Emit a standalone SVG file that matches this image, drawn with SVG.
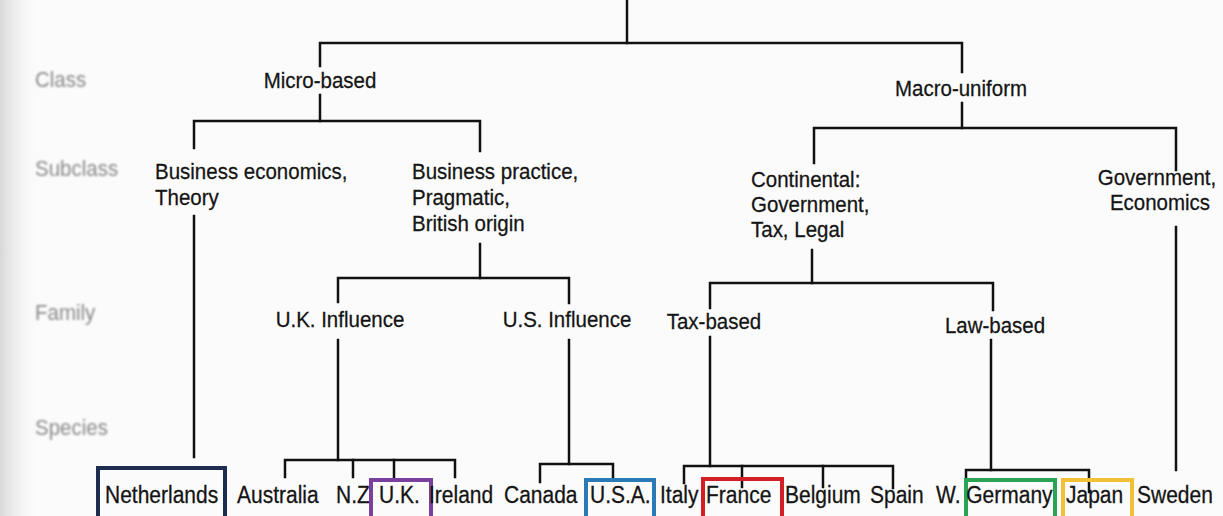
<svg xmlns="http://www.w3.org/2000/svg" width="1223" height="516" viewBox="0 0 1223 516">
<defs>
<linearGradient id="shade" x1="0" y1="0" x2="1" y2="0">
<stop offset="0" stop-color="#d8d8d8"/>
<stop offset="1" stop-color="#fbfbfb" stop-opacity="0"/>
</linearGradient>
<filter id="blur" x="-5%" y="-20%" width="110%" height="140%"><feGaussianBlur stdDeviation="0.9"/></filter>
<style>
text{font-family:"Liberation Sans",Arial,sans-serif;font-size:20.5px;fill:#141414;stroke:#141414;stroke-width:0.25;transform-box:fill-box;transform-origin:50% 50%;transform:scaleY(1.12)}
.lvl{fill:#8a8a8a;stroke:none;font-size:20.5px;filter:url(#blur)}
.cn{fill:none;stroke:#111;stroke-width:2.5;stroke-linejoin:miter;stroke-linecap:square}
.box{fill:none;stroke-width:4}
.bot{font-size:21px}
</style>
</defs>
<rect width="1223" height="516" fill="#fbfbfb"/>
<rect width="40" height="516" fill="url(#shade)"/>

<g id="levels">
<text class="lvl" x="35" y="86">Class</text>
<text class="lvl" x="35" y="175">Subclass</text>
<text class="lvl" x="35" y="319">Family</text>
<text class="lvl" x="35" y="434">Species</text>
</g>

<g id="connectors">
<path class="cn" d="M627,0 V43"/>
<path class="cn" d="M320,66 V43 H962 V72"/>
<path class="cn" d="M320,95 V121"/>
<path class="cn" d="M194,148 V121 H480 V151"/>
<path class="cn" d="M194,216 V457"/>
<path class="cn" d="M480,244 V278"/>
<path class="cn" d="M338,302 V278 H569 V303"/>
<path class="cn" d="M338,340 V460"/>
<path class="cn" d="M285,477 V460 H455 V477"/>
<path class="cn" d="M353,460 V477"/>
<path class="cn" d="M394,460 V478"/>
<path class="cn" d="M569,340 V464"/>
<path class="cn" d="M540,482 V464 H613 V480"/>
<path class="cn" d="M962,103 V128"/>
<path class="cn" d="M814,163 V128 H1176 V170"/>
<path class="cn" d="M812,250 V283"/>
<path class="cn" d="M710,308 V283 H993 V310"/>
<path class="cn" d="M710,337 V466"/>
<path class="cn" d="M684,483 V466 H893 V488"/>
<path class="cn" d="M742,466 V487"/>
<path class="cn" d="M823,466 V487"/>
<path class="cn" d="M991,340 V470"/>
<path class="cn" d="M966,480 V470 H1089 V492"/>
<path class="cn" d="M1176,227 V470"/>
</g>

<g id="n-micro"><text x="320" y="87" text-anchor="middle">Micro-based</text></g>
<g id="n-macro"><text x="961" y="95" text-anchor="middle">Macro-uniform</text></g>
<g id="n-buseco"><text x="155" y="178">Business economics,</text><text x="155" y="204">Theory</text></g>
<g id="n-buspra"><text x="412" y="178">Business practice,</text><text x="412" y="204">Pragmatic,</text><text x="412" y="230">British origin</text></g>
<g id="n-continental"><text x="751" y="186">Continental:</text><text x="751" y="211">Government,</text><text x="751" y="236">Tax, Legal</text></g>
<g id="n-goveco"><text x="1157" y="184" text-anchor="middle">Government,</text><text x="1160" y="209" text-anchor="middle">Economics</text></g>
<g id="n-ukinf"><text x="340" y="326" text-anchor="middle">U.K. Influence</text></g>
<g id="n-usinf"><text x="567" y="326" text-anchor="middle">U.S. Influence</text></g>
<g id="n-tax"><text x="714" y="328" text-anchor="middle">Tax-based</text></g>
<g id="n-law"><text x="995" y="332" text-anchor="middle">Law-based</text></g>

<g id="n-netherlands"><rect class="box" x="98" y="468" width="127" height="54" stroke="#1c2d4f"/><text class="bot" x="105" y="502">Netherlands</text></g>
<g id="n-australia"><text class="bot" x="237" y="502">Australia</text></g>
<g id="n-nz"><text class="bot" x="336" y="502">N.Z</text></g>
<g id="n-uk"><rect class="box" x="371" y="480" width="60" height="42" stroke="#7b3f9e"/><text class="bot" x="379" y="502">U.K.</text></g>
<g id="n-ireland"><text class="bot" x="429" y="502">Ireland</text></g>
<g id="n-canada"><text class="bot" x="504" y="502">Canada</text></g>
<g id="n-usa"><rect class="box" x="586" y="480" width="68" height="42" stroke="#2b79b5"/><text class="bot" x="590" y="502">U.S.A.</text></g>
<g id="n-italy"><text class="bot" x="660" y="502">Italy</text></g>
<g id="n-france"><rect class="box" x="703" y="479" width="79" height="43" stroke="#d21f26"/><text class="bot" x="706" y="502">France</text></g>
<g id="n-belgium"><text class="bot" x="785" y="502">Belgium</text></g>
<g id="n-spain"><text class="bot" x="870" y="502">Spain</text></g>
<g id="n-wgermany"><rect class="box" x="966" y="480" width="89" height="42" stroke="#2aa355"/><text class="bot" x="936" y="502">W. Germany</text></g>
<g id="n-japan"><rect class="box" x="1063" y="480" width="69" height="42" stroke="#f2c037"/><text class="bot" x="1066" y="502">Japan</text></g>
<g id="n-sweden"><text class="bot" x="1137" y="502">Sweden</text></g>
</svg>
